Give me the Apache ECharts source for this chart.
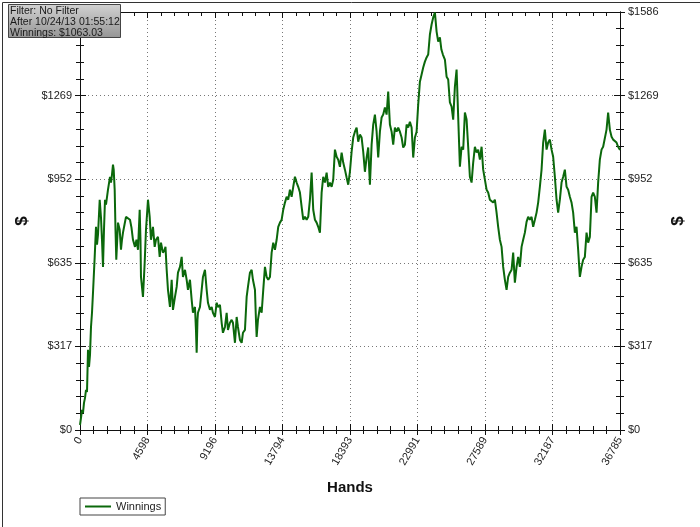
<!DOCTYPE html>
<html>
<head>
<meta charset="utf-8">
<script src="https://cdn.jsdelivr.net/npm/echarts@6/dist/echarts.min.js"></script>
<style>html,body{margin:0;padding:0;background:#fff;}#c{width:700px;height:527px;}</style>
</head>
<body>
<div id="c"></div>
<script>
// ---- data ----
const hands = [0,68,136,204,272,341,409,477,545,613,681,749,817,885,1001,1090,1158,1226,1342,1430,1498,1566,1634,1703,1771,1907,2043,2111,2179,2247,2295,2363,2418,2472,2520,2588,2704,2792,2860,2928,3030,3133,3269,3405,3507,3609,3746,3848,3950,4066,4120,4154,4290,4406,4495,4563,4631,4747,4835,4971,5087,5176,5312,5428,5516,5652,5768,5823,5904,5993,6129,6245,6333,6470,6585,6674,6810,6926,7014,7151,7266,7355,7491,7607,7695,7832,7900,7947,8002,8036,8172,8288,8376,8513,8628,8717,8853,8969,9057,9194,9309,9398,9534,9650,9738,9875,9990,10079,10215,10331,10419,10556,10671,10760,10896,11012,11100,11237,11352,11441,11577,11693,11781,11918,11986,12033,12122,12258,12374,12483,12599,12714,12823,12939,13055,13164,13280,13395,13504,13620,13736,13845,13961,14076,14185,14301,14417,14526,14642,14757,14866,14982,15098,15207,15323,15438,15547,15663,15779,15888,16004,16119,16228,16344,16460,16569,16685,16800,16909,17025,17141,17250,17366,17481,17590,17706,17822,17931,18047,18162,18271,18387,18503,18612,18728,18843,18952,19068,19184,19293,19409,19524,19633,19749,19865,19974,20090,20205,20314,20430,20546,20655,20771,20886,20995,21111,21227,21336,21452,21567,21676,21792,21908,22017,22133,22248,22357,22473,22589,22698,22814,22929,23038,23154,23270,23379,23495,23610,23719,23835,23951,24060,24176,24291,24400,24516,24618,24720,24857,24972,25081,25197,25313,25422,25538,25653,25762,25878,25994,26103,26219,26334,26443,26559,26675,26784,26900,27015,27124,27240,27356,27465,27581,27696,27805,27921,28037,28146,28262,28377,28486,28602,28718,28827,28943,29058,29167,29283,29399,29508,29624,29739,29848,29964,30080,30189,30305,30420,30529,30645,30761,30870,30986,31101,31210,31326,31442,31551,31667,31782,31891,32007,32123,32232,32348,32463,32572,32688,32804,32913,33029,33144,33253,33369,33485,33594,33710,33825,33934,34050,34166,34275,34391,34506,34615,34731,34847,34956,35072,35187,35296,35412,35528,35637,35753,35868,35977,36093,36209,36318,36434,36549,36658,36785];
const winnings = [19,46,76,65,103,122,152,144,304,239,285,391,445,521,657,771,703,741,874,806,722,619,760,874,855,912,961,939,969,1007,988,912,760,646,703,787,760,684,722,749,779,809,809,798,768,722,695,722,684,836,722,581,505,635,760,817,874,809,722,771,695,722,733,657,711,673,684,695,608,532,467,570,456,505,543,597,619,657,581,608,570,532,570,494,445,467,380,293,418,445,467,532,581,608,532,483,456,467,445,429,483,467,475,407,369,391,445,380,407,418,407,331,429,391,342,331,369,380,505,543,597,608,570,532,418,353,418,467,445,532,619,581,570,581,673,711,684,722,771,787,798,836,863,885,874,912,885,923,961,939,923,901,847,798,809,798,809,874,977,836,798,787,771,749,901,961,939,977,923,939,923,950,1064,1037,1026,999,1053,1015,988,958,931,980,1056,1110,1132,1148,1094,1121,1110,1056,980,1034,1072,931,1083,1159,1197,1132,1034,1132,1186,1197,1224,1197,1284,1159,1132,1083,1148,1132,1148,1132,1110,1072,1083,1159,1148,1170,1148,1034,1110,1132,1235,1322,1349,1376,1398,1414,1425,1501,1539,1566,1584,1512,1474,1490,1444,1425,1406,1341,1330,1243,1227,1178,1303,1368,1189,999,1075,1064,1205,1178,1075,961,939,1015,1075,1053,1064,1026,1075,988,950,912,901,874,874,863,874,825,771,722,695,619,570,532,581,597,608,673,559,619,657,619,695,722,749,790,809,798,809,771,798,825,863,923,988,1091,1140,1064,1091,1102,1064,1037,961,874,825,874,939,961,988,923,912,885,863,825,749,771,684,581,619,646,657,749,711,733,885,901,885,825,939,1026,1064,1075,1075,1140,1205,1140,1113,1102,1102,1091,1075,1063];
const xTickLabels = ['0','4598','9196','13794','18393','22991','27589','32187','36785'];
const yTickLabels = ['$0','$317','$635','$952','$1269','$1586'];
const infoLines = ['Filter: No Filter','After 10/24/13 01:55:12','Winnings: $1063.03'];
const seriesName = 'Winnings';
const xName = 'Hands';
const yName = '$';

// ---- chart ----
const xMax = 36785, xInterval = xMax / (xTickLabels.length - 1);
const yMax = 1586.35, yInterval = 317.27;
const pts = hands.map((h, i) => [h, winnings[i]]);
const font = 'Liberation Sans, Arial, sans-serif';
const axisCol = '#111';
const gridLine = {show: true, lineStyle: {color: '#777', type: [1, 3], width: 1}};

function xAx(extra) {
  return Object.assign({
    type: 'value', min: 0, max: xMax, interval: xInterval,
    axisLine: {show: true, onZero: false, lineStyle: {color: axisCol, width: 1}},
    axisTick: {show: true, length: 5, lineStyle: {color: axisCol}},
    minorTick: {show: true, splitNumber: 5, length: 4, lineStyle: {color: axisCol}},
    axisLabel: {show: false},
    splitLine: {show: false}
  }, extra);
}
function yAx(extra) {
  return Object.assign({
    type: 'value', min: 0, max: yMax, interval: yInterval,
    axisLine: {show: true, onZero: false, lineStyle: {color: axisCol, width: 1}},
    axisTick: {show: true, length: 5, lineStyle: {color: axisCol}},
    minorTick: {show: true, splitNumber: 5, length: 4, lineStyle: {color: axisCol}},
    axisLabel: {show: false},
    splitLine: {show: false}
  }, extra);
}
const yLab = {show: true, fontSize: 11, color: '#222', fontFamily: font, margin: 8,
  formatter: v => yTickLabels[Math.round(v / yInterval)]};

const chart = echarts.init(document.getElementById('c'), null, {renderer: 'canvas'});
chart.setOption({
  animation: false,
  backgroundColor: '#fff',
  grid: {left: 80, right: 80, top: 12, bottom: 97, containLabel: false},
  xAxis: [
    xAx({position: 'bottom', splitLine: gridLine,
      axisLabel: {show: true, rotate: 60, fontSize: 11, color: '#222', fontFamily: font, margin: 8,
        formatter: v => xTickLabels[Math.round(v / xInterval)]},
      name: xName, nameLocation: 'middle', nameGap: 50,
      nameTextStyle: {fontSize: 15, fontWeight: 'bold', color: '#111', fontFamily: font}}),
    xAx({position: 'bottom', axisTick: {show: true, inside: true, length: 6, lineStyle: {color: axisCol}},
      minorTick: {show: true, splitNumber: 5, length: 4, lineStyle: {color: axisCol}}}),
    xAx({position: 'top', axisTick: {show: true, inside: true, length: 6, lineStyle: {color: axisCol}},
      minorTick: {show: true, splitNumber: 5, length: 4, lineStyle: {color: axisCol}}})
  ],
  yAxis: [
    yAx({position: 'left', splitLine: gridLine, axisLabel: yLab,
      name: yName, nameLocation: 'middle', nameGap: 48, nameRotate: 90,
      nameTextStyle: {fontSize: 17, fontWeight: 'bold', color: '#111', fontFamily: font}}),
    yAx({position: 'right', axisLabel: yLab,
      name: yName, nameLocation: 'middle', nameGap: 49, nameRotate: 90,
      nameTextStyle: {fontSize: 17, fontWeight: 'bold', color: '#111', fontFamily: font}}),
    yAx({position: 'left', axisTick: {show: true, inside: true, length: 6, lineStyle: {color: axisCol}},
      minorTick: {show: true, splitNumber: 5, length: 4, lineStyle: {color: axisCol}}}),
    yAx({position: 'right', axisTick: {show: true, inside: true, length: 6, lineStyle: {color: axisCol}},
      minorTick: {show: true, splitNumber: 5, length: 4, lineStyle: {color: axisCol}}})
  ],
  legend: {
    show: true, left: 80, top: 498, orient: 'horizontal',
    borderColor: '#444', borderWidth: 1, borderRadius: 0, padding: [3, 4, 3, 5],
    itemWidth: 26, itemHeight: 12, itemGap: 5,
    textStyle: {fontSize: 11, color: '#222', fontFamily: font},
    data: [{name: seriesName, icon: 'path://M0,5 L26,5 L26,7 L0,7 Z'}]
  },
  series: [{
    name: seriesName, type: 'line', xAxisIndex: 0, yAxisIndex: 0,
    data: pts, symbol: 'none', showSymbol: false, smooth: false,
    lineStyle: {color: '#0b680b', width: 2}, itemStyle: {color: '#0b680b'},
    clip: true
  }],
  graphic: [
    {type: 'rect', left: 0, top: 0, z: 100, silent: true,
      shape: {x: 0.5, y: 0.5, width: 698, height: 525},
      style: {fill: 'none', stroke: '#333', lineWidth: 1}},
    {type: 'rect', left: 8, top: 4, z: 200, zlevel: 1, silent: true,
      shape: {x: 0, y: 0, width: 112, height: 33},
      style: {stroke: '#444', lineWidth: 1,
        fill: new echarts.graphic.LinearGradient(0, 0, 0, 1, [
          {offset: 0, color: '#d2d2d2'}, {offset: 1, color: '#959595'}])}},
    {type: 'text', left: 10, top: 6, z: 201, zlevel: 1, silent: true,
      style: {text: infoLines.join('\n'), fontSize: 10.5, lineHeight: 11,
        fill: '#1a1a1a', fontFamily: font}}
  ]
});
</script>
</body>
</html>
